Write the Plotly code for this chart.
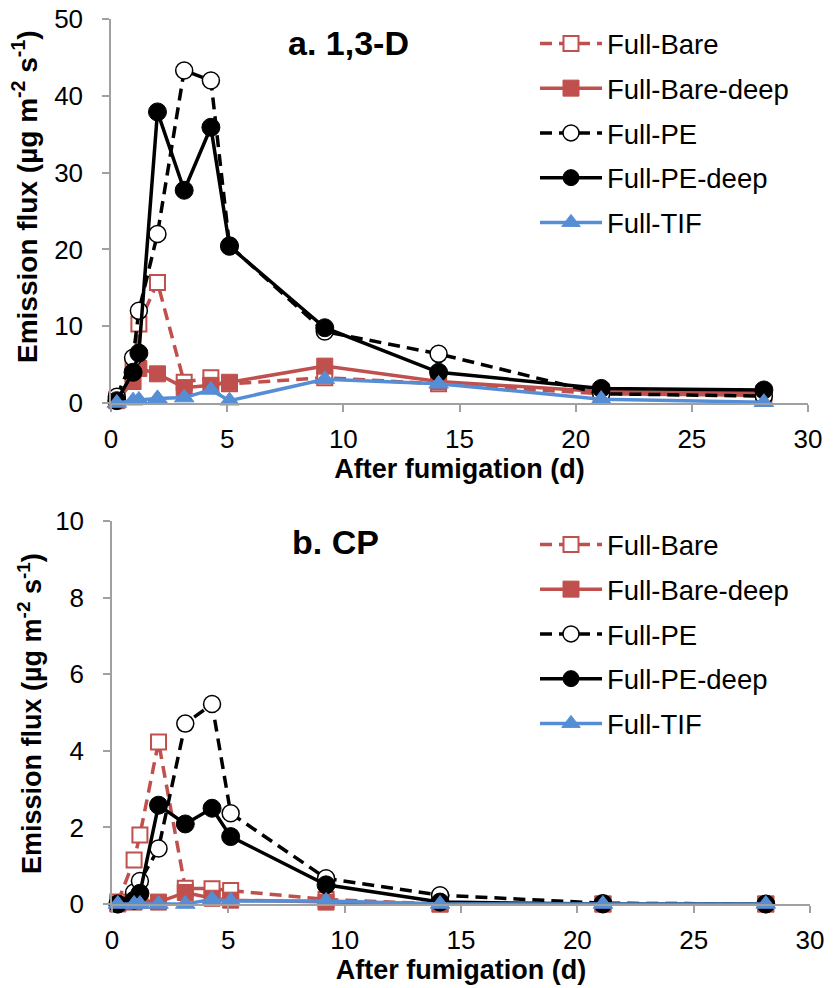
import plotly.graph_objects as go

# sampling days after fumigation
days = [0.25, 0.95, 1.2, 2.0, 3.15, 4.3, 5.1, 9.2, 14.1, 21.1, 28.1]

# a. 1,3-D emission flux
full_bare_a = [0.5, 4.5, 10.3, 15.7, 2.7, 3.3, 2.5, 3.3, 2.5, 1.2, 1.0]
full_bare_deep_a = [0.3, 2.8, 4.5, 3.8, 2.0, 2.3, 2.7, 4.8, 2.8, 1.5, 1.3]
full_pe_a = [0.8, 5.9, 12.0, 22.0, 43.3, 42.0, 20.5, 9.3, 6.4, 1.2, 0.9]
full_pe_deep_a = [0.3, 4.0, 6.5, 37.9, 27.7, 35.9, 20.4, 9.8, 4.0, 1.9, 1.7]
full_tif_a = [0.0, 0.3, 0.4, 0.6, 0.7, 1.7, 0.3, 3.1, 2.5, 0.5, 0.1]

# b. CP emission flux
full_bare_b = [0.05, 1.15, 1.8, 4.23, 0.41, 0.4, 0.35, 0.12, 0.0, 0.0, 0.0]
full_bare_deep_b = [0.0, 0.05, 0.1, 0.05, 0.3, 0.15, 0.1, 0.05, 0.0, 0.0, 0.0]
full_pe_b = [0.0, 0.3, 0.6, 1.45, 4.71, 5.22, 2.37, 0.67, 0.23, 0.02, 0.0]
full_pe_deep_b = [0.0, 0.1, 0.28, 2.58, 2.09, 2.5, 1.76, 0.5, 0.05, 0.0, 0.0]
full_tif_b = [0.0, 0.0, 0.0, 0.0, 0.0, 0.12, 0.08, 0.08, 0.0, 0.0, 0.0]

series_names = ["Full-Bare", "Full-Bare-deep", "Full-PE", "Full-PE-deep", "Full-TIF"]

RED = "#C0504D"
BLUE = "#558ED5"
BLACK = "#000000"
FONT = "Liberation Sans, Arial, sans-serif"
DASH = "12px,7px"

W, H = 833, 988


def px_x(px):
    return px / W


def px_y(py):
    return 1 - py / H


styles = {
    "Full-Bare": dict(line=dict(color=RED, width=3.5, dash=DASH),
                      marker=dict(symbol="square", size=15, color="white",
                                  line=dict(color=RED, width=2))),
    "Full-Bare-deep": dict(line=dict(color=RED, width=3.5),
                           marker=dict(symbol="square", size=16, color=RED,
                                       line=dict(color=RED, width=1))),
    "Full-PE": dict(line=dict(color=BLACK, width=3.5, dash=DASH),
                    marker=dict(symbol="circle", size=17, color="white",
                                line=dict(color=BLACK, width=1.5))),
    "Full-PE-deep": dict(line=dict(color=BLACK, width=3.5),
                         marker=dict(symbol="circle", size=18, color=BLACK,
                                     line=dict(color=BLACK, width=1))),
    "Full-TIF": dict(line=dict(color=BLUE, width=3.5),
                     marker=dict(symbol="triangle-up", size=17, color=BLUE,
                                 line=dict(color=BLUE, width=1))),
}

fig = go.Figure()

panels = [
    ("x", "y", "legend", [full_bare_a, full_bare_deep_a, full_pe_a, full_pe_deep_a, full_tif_a]),
    ("x2", "y2", "legend2", [full_bare_b, full_bare_deep_b, full_pe_b, full_pe_deep_b, full_tif_b]),
]

for xa, ya, leg, values in panels:
    for name, vals in zip(series_names, values):
        fig.add_trace(go.Scatter(
            x=days, y=vals, name=name, mode="lines+markers",
            xaxis=xa, yaxis=ya, legend=leg, legendgroup=leg + name,
            cliponaxis=False, **styles[name]
        ))

axis_common = dict(
    showline=True, linecolor="#A0A0A0", linewidth=1.5,
    ticks="outside", tickcolor="#A0A0A0", ticklen=7, tickwidth=1.5,
    showgrid=False, zeroline=False, automargin=False,
    ticklabeloverflow="allow",
    tickfont=dict(family=FONT, size=26, color="black"),
)

xtitle = dict(text="<b>After fumigation (d)</b>", font=dict(family=FONT, size=27, color="black"), standoff=6)
ytitle_text = "<b>Emission flux (µg m<sup>-2</sup> s<sup>-1</sup>)</b>"

legend_common = dict(
    font=dict(family=FONT, size=27.5, color="black"),
    bgcolor="rgba(0,0,0,0)", traceorder="grouped", tracegroupgap=6,
    itemwidth=62, xanchor="left", yanchor="top",
)

fig.update_layout(
    width=W, height=H,
    paper_bgcolor="white", plot_bgcolor="white",
    margin=dict(l=0, r=0, t=0, b=0),
    showlegend=True,
    xaxis=dict(domain=[px_x(111), px_x(808)], range=[0, 30], dtick=5, anchor="y",
               ticklabelstandoff=5, title=xtitle, **axis_common),
    yaxis=dict(domain=[px_y(403), px_y(19)], range=[0, 50], dtick=10, anchor="x",
               ticklabelstandoff=14, **axis_common),
    xaxis2=dict(domain=[px_x(112), px_x(810)], range=[0, 30], dtick=5, anchor="y2",
                ticklabelstandoff=5, title=xtitle, **axis_common),
    yaxis2=dict(domain=[px_y(904), px_y(521)], range=[0, 10], dtick=2, anchor="x2",
                ticklabelstandoff=14, **axis_common),
    legend=dict(x=px_x(535), y=px_y(19), **legend_common),
    legend2=dict(x=px_x(535), y=px_y(520), **legend_common),
    annotations=[
        dict(text="<b>a. 1,3-D</b>", x=px_x(348), y=px_y(43), xref="paper", yref="paper",
             xanchor="center", yanchor="middle", showarrow=False,
             font=dict(family=FONT, size=34, color="black")),
        dict(text="<b>b. CP</b>", x=px_x(335), y=px_y(542), xref="paper", yref="paper",
             xanchor="center", yanchor="middle", showarrow=False,
             font=dict(family=FONT, size=34, color="black")),
        dict(text=ytitle_text, x=px_x(25), y=px_y(197), xref="paper", yref="paper",
             xanchor="center", yanchor="middle", textangle=-90, showarrow=False,
             font=dict(family=FONT, size=28, color="black")),
        dict(text=ytitle_text, x=px_x(30), y=px_y(714), xref="paper", yref="paper",
             xanchor="center", yanchor="middle", textangle=-90, showarrow=False,
             font=dict(family=FONT, size=27, color="black")),
    ],
)

# drop the default page margin so the figure sits at the window's top-left corner
fig.write_html("out.html", config={"displayModeBar": False},
               post_script="document.body.style.margin='0';")
